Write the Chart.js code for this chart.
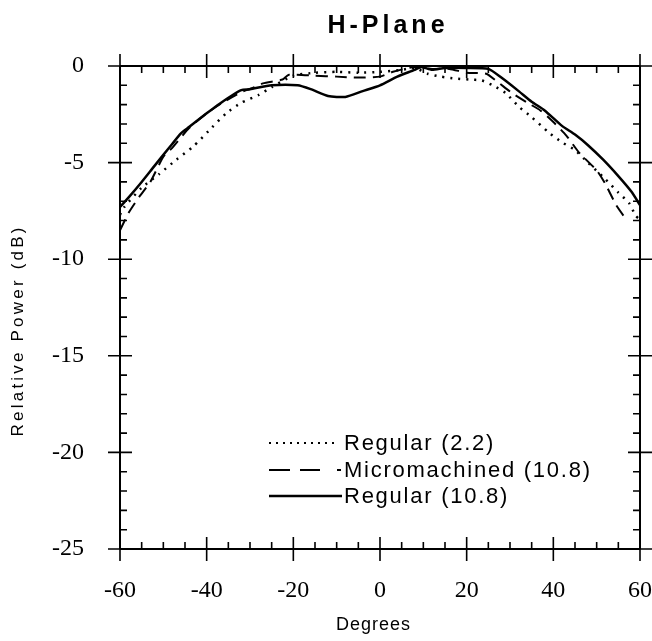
<!DOCTYPE html>
<html><head><meta charset="utf-8">
<script src="https://cdn.jsdelivr.net/npm/chart.js@4/dist/chart.umd.min.js"></script>
<style>html,body{margin:0;padding:0;background:#fff}#wrap{width:652px;height:641px}</style>
</head><body><div id="wrap"><canvas id="c" width="652" height="641"></canvas></div>
<script>
// ---- text ----
const chartTitle = "H-Plane";
const xAxisTitle = "Degrees";
const yAxisTitle = "Relative Power (dB)";
const seriesNames = ["Regular (2.2)", "Micromachined (10.8)", "Regular (10.8)"];

// ---- tick labels ----
const xTicks = [-60, -40, -20, 0, 20, 40, 60];
const yTicks = [-25, -20, -15, -10, -5, 0];

// ---- Regular (2.2), dotted ----
const reg22Deg = [-60, -59, -55, -51, -47, -43, -39.5, -35.5, -32, -28, -25, -20, -15, -10, -5, 0, 5, 8, 11, 14, 17.5, 20.5, 23.5, 26, 29, 32, 35, 39, 42, 45, 48, 52, 55, 57.5, 59, 60];
const reg22Db  = [-7.7, -7.3, -6.3, -5.6, -4.85, -4.15, -3.35, -2.45, -1.9, -1.5, -1.1, -0.5, -0.35, -0.3, -0.35, -0.3, -0.2, -0.1, -0.4, -0.55, -0.65, -0.7, -0.75, -1.0, -1.4, -2.1, -2.65, -3.45, -3.95, -4.35, -5.0, -5.85, -6.55, -7.1, -7.75, -7.95];

// ---- Micromachined (10.8), dashed ----
const microDeg = [-60, -58, -55.5, -53, -50, -48, -44, -40, -36, -32, -29, -27, -22.5, -21, -15, -10, -5, 0, 3, 8, 12, 16, 20, 24.5, 27, 30.5, 34, 37, 40, 43, 46, 50, 52, 54.5, 57];
const microDb  = [-8.5, -7.6, -6.75, -6.0, -4.7, -4.25, -3.2, -2.45, -1.85, -1.35, -1.1, -0.9, -0.7, -0.45, -0.5, -0.55, -0.6, -0.55, -0.3, -0.05, -0.15, -0.15, -0.35, -0.4, -0.8, -1.4, -1.9, -2.3, -2.9, -3.6, -4.5, -5.4, -6.1, -7.2, -8.0];

// ---- Regular (10.8), solid ----
const reg108Deg = [-60, -58, -55, -52.5, -50, -48, -46, -44, -40, -37, -34, -32, -30, -25, -19, -16, -12, -8, -4, 0, 4, 8, 9.5, 12, 15, 20, 25, 28, 32, 35, 38, 42, 45, 48, 51.5, 55, 58, 60];
const reg108Db  = [-7.3, -6.8, -6.0, -5.3, -4.6, -4.05, -3.5, -3.15, -2.45, -1.95, -1.5, -1.25, -1.2, -1.0, -1.0, -1.2, -1.55, -1.6, -1.3, -1.0, -0.55, -0.2, -0.05, -0.2, -0.1, -0.1, -0.15, -0.6, -1.3, -1.85, -2.3, -3.1, -3.55, -4.1, -4.85, -5.7, -6.5, -7.2];

const pts = (xs, ys) => xs.map((x, i) => ({ x: x, y: ys[i] }));

function drawSpaced(ctx, text, x, y, spacing, align) {
  ctx.letterSpacing = spacing + 'px';
  const w = ctx.measureText(text).width - spacing;
  let sx = x;
  if (align === 'center') sx = x - w / 2;
  else if (align === 'right') sx = x - w;
  ctx.textAlign = 'left';
  ctx.fillText(text, sx, y);
  ctx.letterSpacing = '0px';
}

const framePlugin = {
  id: 'frame',
  afterDraw(chart) {
    const ctx = chart.ctx;
    const xs = chart.scales.x, ys = chart.scales.y;
    const L = xs.getPixelForValue(-60), R = xs.getPixelForValue(60);
    const T = ys.getPixelForValue(0), B = ys.getPixelForValue(-25);
    ctx.save();
    ctx.strokeStyle = '#000';
    ctx.lineWidth = 2;
    ctx.beginPath();
    ctx.moveTo(L, T); ctx.lineTo(R, T);
    ctx.moveTo(L, B); ctx.lineTo(R, B);
    ctx.moveTo(L, T); ctx.lineTo(L, B);
    ctx.moveTo(R, T); ctx.lineTo(R, B);
    ctx.stroke();
    ctx.lineWidth = 1.6;
    ctx.beginPath();
    const MAJ = 12, MIN = 7;
    for (let v = -60; v <= 60; v += 5) {
      const p = xs.getPixelForValue(v);
      if (v % 20 === 0) {
        ctx.moveTo(p, B - MAJ); ctx.lineTo(p, B + MAJ);
        ctx.moveTo(p, T - MAJ); ctx.lineTo(p, T + MAJ);
      } else {
        ctx.moveTo(p, B); ctx.lineTo(p, B - MIN);
        ctx.moveTo(p, T); ctx.lineTo(p, T + MIN);
      }
    }
    for (let v = -25; v <= 0; v += 1) {
      const p = ys.getPixelForValue(v);
      if (v % 5 === 0) {
        ctx.moveTo(L - MAJ, p); ctx.lineTo(L + MAJ, p);
        ctx.moveTo(R - MAJ, p); ctx.lineTo(R + MAJ, p);
      } else {
        ctx.moveTo(L, p); ctx.lineTo(L + MIN, p);
        ctx.moveTo(R, p); ctx.lineTo(R - MIN, p);
      }
    }
    ctx.stroke();

    // texts
    ctx.fillStyle = '#000';
    ctx.textBaseline = 'alphabetic';
    ctx.font = 'bold 25px "Liberation Sans", Arial, sans-serif';
    drawSpaced(ctx, chartTitle, 386, 33, 4, 'center');
    ctx.font = '18px "Liberation Sans", Arial, sans-serif';
    drawSpaced(ctx, xAxisTitle, 373, 630, 1, 'center');
    ctx.save();
    ctx.translate(23, 332);
    ctx.rotate(-Math.PI / 2);
    ctx.font = '17px "Liberation Sans", Arial, sans-serif';
    drawSpaced(ctx, yAxisTitle, 0, 0, 3.2, 'center');
    ctx.restore();

    // legend
    const rows = [443, 470, 496];
    const x0 = 269, x1 = 341;
    ctx.lineWidth = 2;
    ctx.setLineDash([2, 5]);
    ctx.beginPath(); ctx.moveTo(x0, rows[0]); ctx.lineTo(x1 - 4, rows[0]); ctx.stroke();
    ctx.setLineDash([21, 10, 20, 17, 4, 100]);
    ctx.beginPath(); ctx.moveTo(x0, rows[1]); ctx.lineTo(x1, rows[1]); ctx.stroke();
    ctx.setLineDash([]);
    ctx.lineWidth = 2.5;
    ctx.beginPath(); ctx.moveTo(x0, rows[2]); ctx.lineTo(x1 + 1, rows[2]); ctx.stroke();
    ctx.font = '22px "Liberation Sans", Arial, sans-serif';
    ctx.textBaseline = 'middle';
    for (let i = 0; i < 3; i++) drawSpaced(ctx, seriesNames[i], 344, rows[i] + 1, 1.75, 'left');
    ctx.restore();
  }
};

new Chart(document.getElementById('c'), {
  type: 'line',
  data: {
    datasets: [
      { label: seriesNames[0], data: pts(reg22Deg, reg22Db), borderColor: '#000', borderWidth: 2.5, borderDash: [2, 6], pointRadius: 0, tension: 0.2, fill: false },
      { label: seriesNames[1], data: pts(microDeg, microDb), borderColor: '#000', borderWidth: 2, borderDash: [12, 7], pointRadius: 0, tension: 0.2, fill: false },
      { label: seriesNames[2], data: pts(reg108Deg, reg108Db), borderColor: '#000', borderWidth: 2.5, pointRadius: 0, tension: 0.2, fill: false }
    ]
  },
  options: {
    responsive: false,
    animation: false,
    devicePixelRatio: 1,
    layout: { padding: { top: 66, right: 12, bottom: 0, left: 0 } },
    plugins: { legend: { display: false }, title: { display: false }, tooltip: { enabled: false } },
    scales: {
      x: {
        type: 'linear', min: -60, max: 60,
        grid: { display: false, drawTicks: false, tickLength: 0 },
        border: { display: false },
        afterBuildTicks: s => { s.ticks = xTicks.map(v => ({ value: v })); },
        afterFit: s => { s.height = 92; s.paddingLeft = 0; s.paddingRight = 0; },
        ticks: { color: '#000', font: { family: '"Liberation Serif", "Times New Roman", serif', size: 24 }, padding: 27, maxRotation: 0, autoSkip: false }
      },
      y: {
        type: 'linear', min: -25, max: 0,
        grid: { display: false, drawTicks: false, tickLength: 0 },
        border: { display: false },
        afterBuildTicks: s => { s.ticks = yTicks.map(v => ({ value: v })); },
        afterFit: s => { s.width = 120; s.paddingTop = 0; s.paddingBottom = 0; },
        ticks: { color: '#000', font: { family: '"Liberation Serif", "Times New Roman", serif', size: 24 }, padding: 36 }
      }
    }
  },
  plugins: [framePlugin]
});
</script>
</body></html>
